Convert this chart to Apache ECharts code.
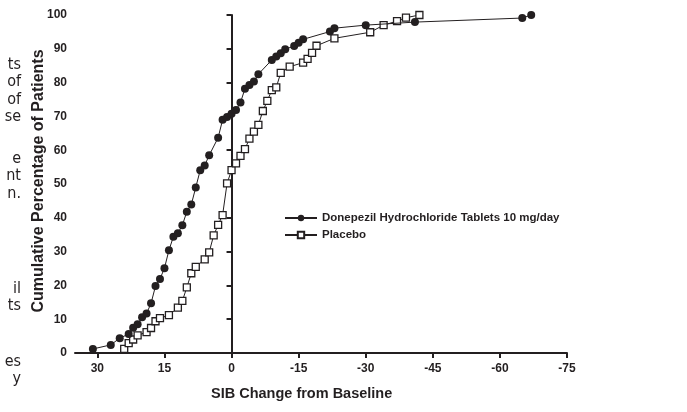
<!DOCTYPE html>
<html>
<head>
<meta charset="utf-8">
<script src="https://cdn.jsdelivr.net/npm/echarts@6/dist/echarts.min.js"></script>
<style>
  html, body { margin: 0; padding: 0; background: #fff; }
  #chart { width: 687px; height: 412px; }
</style>
</head>
<body>
<div id="chart"></div>
<script>
// SIB change (positive = worse), cumulative % of patients
var donepezilChange = [31, 27, 25, 23, 22, 21, 20, 19, 18, 17, 16, 15, 14, 13, 12, 11, 10, 9, 8, 7, 6, 5, 3, 2, 1, 0, -1, -2, -3, -4, -5, -6, -9, -10, -11, -12, -14, -15, -16, -22, -23, -30, -41, -65, -67]
var donepezilPct = [1.2, 2.4, 4.4, 5.6, 7.5, 8.5, 10.6, 11.7, 14.7, 19.8, 21.9, 25.1, 30.4, 34.4, 35.4, 37.8, 41.8, 43.9, 49.0, 54.1, 55.5, 58.5, 63.7, 69.0, 69.8, 70.8, 71.9, 74.1, 78.2, 79.3, 80.3, 82.5, 86.7, 87.7, 88.7, 89.9, 90.8, 91.8, 92.8, 95.1, 96.1, 97.0, 97.9, 99.1, 100]
var placeboChange = [24, 23, 22, 21, 19, 18, 17, 16, 14, 12, 11, 10, 9, 8, 6, 5, 4, 3, 2, 1, 0, -1, -2, -3, -4, -5, -6, -7, -8, -9, -10, -11, -13, -16, -17, -18, -19, -23, -31, -34, -37, -39, -42]
var placeboPct = [1.2, 2.9, 4.0, 5.2, 6.2, 7.4, 9.4, 10.3, 11.2, 13.4, 15.4, 19.4, 23.6, 25.5, 27.7, 29.8, 34.8, 37.9, 40.8, 50.2, 54.1, 56.1, 58.3, 60.3, 63.4, 65.5, 67.5, 71.6, 74.6, 77.8, 78.6, 82.9, 84.7, 85.9, 87.0, 88.8, 90.9, 93.1, 94.9, 97.0, 98.2, 99.2, 100]
var xTicks = [30, 15, 0, -15, -30, -45, -60, -75]
var yTicks = [0, 10, 20, 30, 40, 50, 60, 70, 80, 90, 100]
// clipped words of the neighbouring page text
var sideWords = ['ts', 'of', 'of', 'se', 'e', 'nt', 'n.', 'il', 'ts', 'es', 'y']
var sideRows = [63, 80, 98, 115, 157, 174, 192, 287, 304, 360, 377]

var ink = '#231f20'
var font = '"Liberation Sans", Arial, sans-serif'

function pairs(xs, ys) {
    return xs.map(function (x, i) { return [x, ys[i]] })
}

var chart = echarts.init(document.getElementById('chart'))

var sideText = sideWords.map(function (w, i) {
    return {
        type: 'text', right: 666, top: sideRows[i] - 6,
        style: { text: w, fill: ink, font: '16px "DejaVu Sans Condensed", "Liberation Sans Narrow", sans-serif', textAlign: 'right' }
    }
})

chart.setOption({
    animation: false,
    grid: { left: 75, right: 120, top: 15, bottom: 59 },
    legend: {
        orient: 'vertical', left: 279, top: 207,
        itemWidth: 32, itemHeight: 8, itemGap: 5,
        textStyle: { color: ink, fontFamily: font, fontWeight: 'bold', fontSize: 11.5 },
        data: ['Donepezil Hydrochloride Tablets 10 mg/day', 'Placebo']
    },
    xAxis: {
        type: 'value', inverse: true, min: -75, max: 35, interval: 15,
        splitLine: { show: false },
        axisLine: { lineStyle: { color: ink, width: 2 } },
        axisTick: { length: 5, lineStyle: { color: ink, width: 2 }, customValues: xTicks },
        axisLabel: { color: ink, fontFamily: font, fontWeight: 'bold', fontSize: 12, margin: 10, customValues: xTicks }
    },
    yAxis: {
        type: 'value', min: 0, max: 100, interval: 10,
        splitLine: { show: false },
        axisLine: { lineStyle: { color: ink, width: 2 } },
        axisTick: { length: 5, lineStyle: { color: ink, width: 2 }, customValues: yTicks },
        axisLabel: { color: ink, fontFamily: font, fontWeight: 'bold', fontSize: 12, margin: 8, customValues: yTicks }
    },
    graphic: sideText.concat([
        {
            type: 'text', left: 211, top: 386,
            style: { text: 'SIB Change from Baseline', fill: ink, font: 'bold 14.5px ' + font }
        },
        {
            type: 'text', x: 39, y: 181, rotation: Math.PI / 2,
            style: { text: 'Cumulative Percentage of Patients', fill: ink, font: 'bold 16px ' + font, align: 'center', verticalAlign: 'middle' }
        }
    ]),
    series: [
        {
            name: 'Donepezil Hydrochloride Tablets 10 mg/day',
            type: 'line', clip: false, z: 3,
            symbol: 'circle', symbolSize: 8,
            itemStyle: { color: ink, borderWidth: 0 },
            lineStyle: { color: ink, width: 1 },
            data: pairs(donepezilChange, donepezilPct),
            markLine: {
                silent: true, symbol: 'none', label: { show: false },
                lineStyle: { color: ink, width: 2, type: [8, 4] },
                data: [[{ coord: [0, 0] }, { coord: [0, 101.5] }]]
            }
        },
        {
            name: 'Placebo',
            type: 'line', clip: false, z: 2,
            symbol: 'rect', symbolSize: 7,
            itemStyle: { color: '#fff', borderColor: ink, borderWidth: 1.3 },
            lineStyle: { color: ink, width: 1 },
            data: pairs(placeboChange, placeboPct)
        }
    ]
})
</script>
</body>
</html>
